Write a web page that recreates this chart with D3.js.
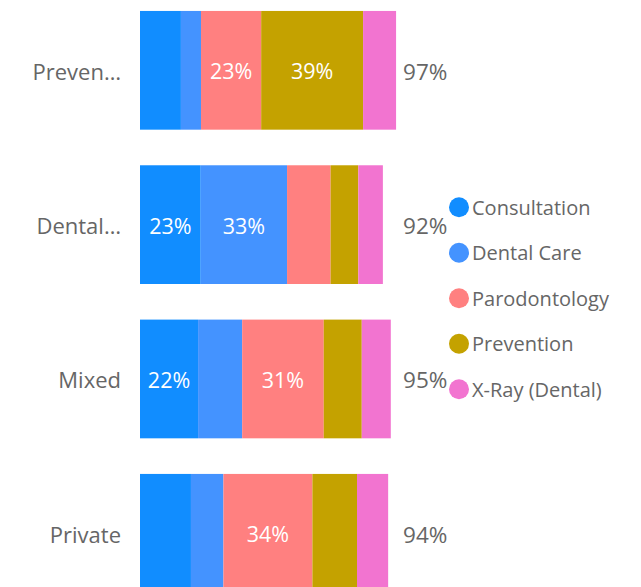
<!DOCTYPE html>
<html lang="en">
  <head>
    <meta charset="utf-8">
    <title>Stacked bars</title>
    <script src="https://d3js.org/d3.v7.min.js"></script>
    <style>
      body { margin: 0; background: #fff; }
      #chart text { font-family: "Segoe UI", "Open Sans", sans-serif; }
    </style>
  </head>
  <body>
    <div id="chart"></div>
    <script>
      "use strict"
      // categories as shown on the axis (already truncated)
      var categories = ["Preven\u2026", "Dental\u2026", "Mixed", "Private"]
      var seriesNames = ["Consultation", "Dental Care", "Parodontology", "Prevention", "X-Ray (Dental)"]
      var colors = ["#118DFF", "#4493FF", "#FF8080", "#C4A200", "#F274D0"]
      // shares in % per category
      var consultation  = [15.5, 23.0, 22.0, 19.3]
      var dentalCare    = [7.6, 32.7, 16.7, 12.3]
      var parodontology = [22.8, 16.5, 30.9, 33.7]
      var prevention    = [38.6, 10.5, 14.4, 16.9]
      var xray          = [12.5, 9.3, 11.0, 11.8]

      var seriesValues = [consultation, dentalCare, parodontology, prevention, xray]
      var rows = categories.map(function (c, i) {
        var r = {cat: c}
        seriesNames.forEach(function (s, j) { r[s] = seriesValues[j][i] })
        r.total = d3.sum(seriesValues, v => v[i])
        return r
      })

      var W = 641, H = 587
      var svg = d3.select('#chart').append('svg')
        .attr('width', W).attr('height', H)

      var x = d3.scaleLinear().domain([0, 100]).range([140, 404])
      var y = d3.scaleBand().domain(categories)
        .range([-6.8, 610.4]).paddingInner(0.2307).paddingOuter(0.115)

      var stack = d3.stack().keys(seriesNames)(rows)

      var layers = svg.append('g').selectAll('g')
        .data(stack).enter().append('g')
          .attr('fill', (d, i) => colors[i])

      layers.selectAll('rect')
        .data(d => d).enter().append('rect')
          .attr('x', d => x(d[0]))
          .attr('y', d => y(d.data.cat))
          .attr('width', d => x(d[1]) - x(d[0]))
          .attr('height', y.bandwidth())

      // labels inside segments, only when they fit
      layers.selectAll('text')
        .data(d => d).enter().append('text')
          .attr('x', d => (x(d[0]) + x(d[1])) / 2)
          .attr('y', d => y(d.data.cat) + y.bandwidth() / 2)
          .attr('dy', '0.42em')
          .attr('text-anchor', 'middle')
          .attr('fill', '#fff')
          .style('font-size', '21.5px')
          .text(d => Math.round(d[1] - d[0]) + '%')
          .each(function (d) {
            var w = x(d[1]) - x(d[0])
            if (this.getComputedTextLength() + 12 > w) d3.select(this).remove()
          })

      // category axis (no line, no ticks)
      var yAxis = svg.append('g')
        .attr('transform', 'translate(121,0)')
        .call(d3.axisLeft(y).tickSize(0).tickPadding(0))
      yAxis.select('.domain').remove()
      yAxis.selectAll('text')
        .attr('dy', '0.42em')
        .attr('fill', '#666')
        .style('font-size', '22px')

      // totals
      var maxTotal = d3.max(rows, d => d.total)
      svg.append('g').selectAll('text')
        .data(rows).enter().append('text')
          .attr('x', x(maxTotal) + 7)
          .attr('y', d => y(d.cat) + y.bandwidth() / 2)
          .attr('dy', '0.42em')
          .attr('fill', '#666')
          .style('font-size', '22.5px')
          .text(d => Math.round(d.total) + '%')

      // legend
      var legend = svg.append('g').selectAll('g')
        .data(seriesNames).enter().append('g')
          .attr('transform', (d, i) => 'translate(459,' + (207.3 + i * 45.5) + ')')
      legend.append('circle').attr('r', 10).attr('fill', (d, i) => colors[i])
      legend.append('text')
        .attr('x', 13).attr('dy', '0.36em')
        .attr('fill', '#666')
        .style('font-size', '20px')
        .text(d => d)
    </script>
  </body>
</html>
